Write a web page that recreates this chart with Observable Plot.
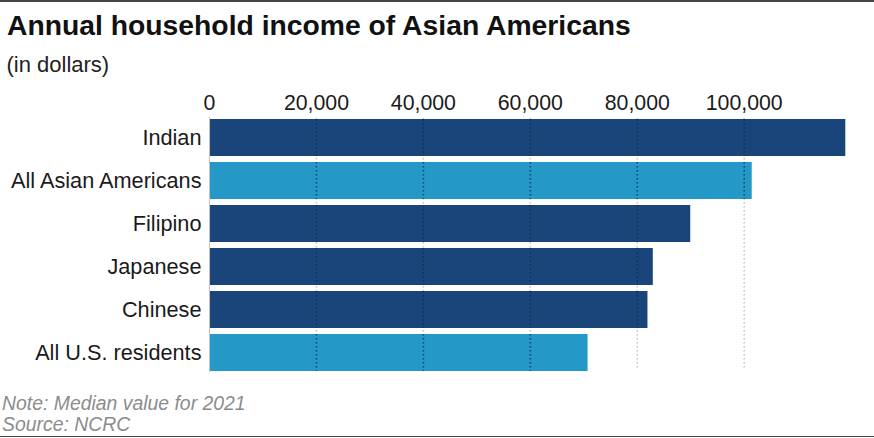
<!DOCTYPE html>
<html>
<head>
<meta charset="utf-8">
<script src="https://cdn.jsdelivr.net/npm/d3@7"></script>
<script src="https://cdn.jsdelivr.net/npm/@observablehq/plot@0.6"></script>
<style>
  html, body { margin: 0; padding: 0; background: #fff; }
  #wrap { position: relative; width: 874px; height: 438px; overflow: hidden; font-family: "Liberation Sans", Arial, sans-serif; }
  .rule { position: absolute; left: 0; width: 874px; height: 1.5px; background: #444; }
  #title { position: absolute; left: 7px; top: 11px; font-size: 28.3px; line-height: 28px; font-weight: bold; color: #111; white-space: nowrap; }
  #subtitle { position: absolute; left: 6.5px; top: 53.5px; font-size: 22px; line-height: 22px; color: #222; white-space: nowrap; }
  #chart { position: absolute; left: 0; top: 85px; }
  #note { position: absolute; left: 2px; top: 393px; font-size: 19.4px; line-height: 21px; font-style: italic; color: #8c8c8c; white-space: nowrap; }
</style>
</head>
<body>
<div id="wrap">
  <div class="rule" style="top:0"></div>
  <div id="title">Annual household income of Asian Americans</div>
  <div id="subtitle">(in dollars)</div>
  <div id="chart"></div>
  <div id="note">Note: Median value for 2021<br>Source: NCRC</div>
  <div class="rule" style="top:435.5px"></div>
</div>
<script>
const categories = ["Indian", "All Asian Americans", "Filipino", "Japanese", "Chinese", "All U.S. residents"];
const incomes = [119000, 101500, 90000, 83000, 82000, 70800];
const groups = ["subgroup", "aggregate", "subgroup", "subgroup", "subgroup", "aggregate"];
const xTicks = [0, 20000, 40000, 60000, 80000, 100000];

const table = categories.map((c, i) => ({cat: c, value: incomes[i], group: groups[i]}));
const overlay = [];
for (const r of table) for (const t of xTicks) if (t > 0 && t < r.value) overlay.push({cat: r.cat, tick: t, group: r.group});

const chart = Plot.plot({
  width: 874,
  height: 300,
  marginTop: 28,
  marginBottom: 7.6,
  marginLeft: 209,
  marginRight: 28.7,
  style: {fontFamily: "'Liberation Sans', Arial, sans-serif", fontSize: "21.7px", color: "#1a1a1a", background: "transparent"},
  x: {domain: [0, 119000], axis: null},
  y: {domain: categories, padding: 0.14, axis: null},
  color: {domain: ["subgroup", "aggregate"], range: ["#19457a", "#2499c7"]},
  marks: [
    Plot.gridX(xTicks.filter(t => t > 0), {stroke: "#c4c4c4", strokeOpacity: 1, strokeWidth: 1.5, strokeDasharray: "1.5,2.5", insetTop: 5, insetBottom: 10}),
    Plot.barX(table, {x: "value", y: "cat", fill: "group", insetLeft: 0.5}),
    Plot.tickX(overlay.filter(d => d.group === "aggregate"), {x: "tick", y: "cat", stroke: "#17457a", strokeWidth: 1.6, strokeDasharray: "1.5,2.5"}),
    Plot.tickX(overlay.filter(d => d.group === "subgroup"), {x: "tick", y: "cat", stroke: "#0e3158", strokeWidth: 1.5, strokeDasharray: "1.5,2.5"}),
    Plot.ruleX([0], {stroke: "#c4c4c4", insetTop: 4, insetBottom: 5}),
    Plot.axisX(xTicks, {anchor: "top", tickSize: 0, tickPadding: 4, tickFormat: d3.format(","), label: null, fontSize: 21.3}),
    Plot.axisY({anchor: "left", tickSize: 0, tickPadding: 8, label: null, fontSize: 21.7})
  ]
});
document.getElementById("chart").appendChild(chart);
</script>
</body>
</html>
